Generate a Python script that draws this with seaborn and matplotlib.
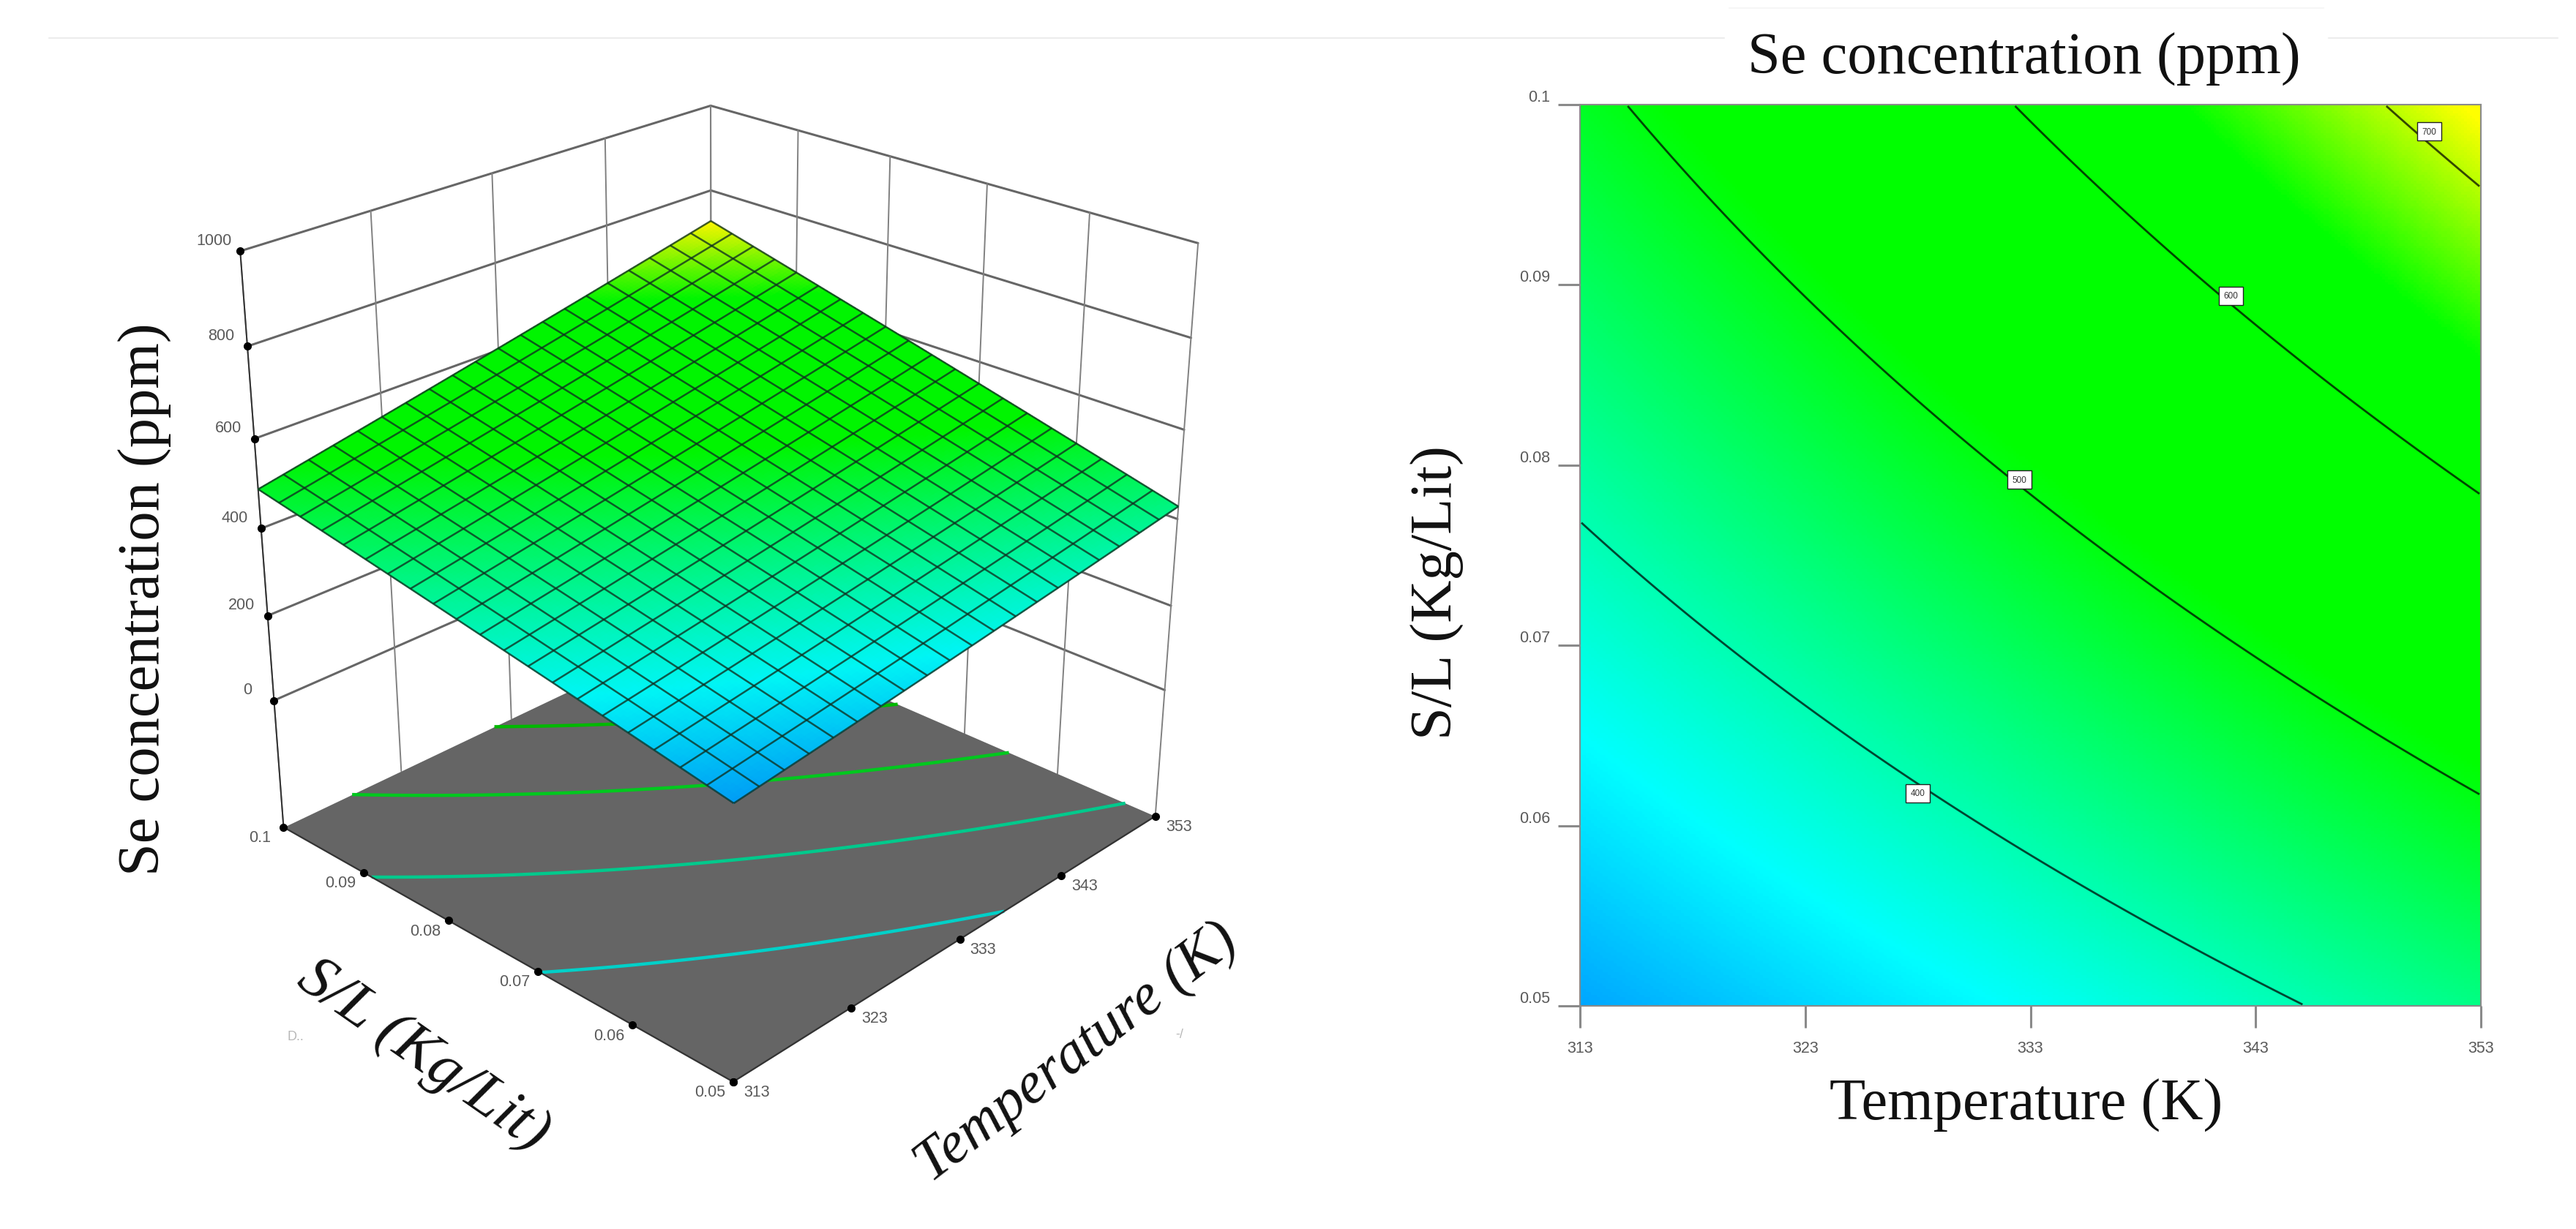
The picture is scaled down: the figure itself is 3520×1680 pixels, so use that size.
import numpy as np
import pandas as pd
import matplotlib
matplotlib.use("Agg")
import matplotlib.pyplot as plt
import seaborn as sns
from matplotlib.colors import LinearSegmentedColormap, Normalize
from matplotlib.lines import Line2D
from matplotlib.transforms import ScaledTranslation
from mpl_toolkits.mplot3d import proj3d

# Se concentration (ppm) read at each temperature / solid-to-liquid tick
temperature_ticks = [313, 323, 333, 343, 353]
sl_ticks = [0.05, 0.06, 0.07, 0.08, 0.09, 0.1]
sl_tick_labels = ["0.05", "0.06", "0.07", "0.08", "0.09", "0.1"]
z_ticks = [0, 200, 400, 600, 800, 1000]
se_313 = [291, 333, 374, 413, 451, 488]
se_323 = [324, 369, 414, 458, 502, 546]
se_333 = [358, 409, 459, 508, 557, 605]
se_343 = [393, 449, 503, 558, 611, 664]
se_353 = [427, 490, 550, 610, 669, 727]

contour_levels = [400, 500, 600, 700]
floor_levels = [372, 447, 521, 595]
floor_colors = ["#00d0c8", "#00c98c", "#00c81e", "#00b800"]
label_t = [328.0, 332.5, 341.9, 350.7]
label_sl = [0.0618, 0.0792, 0.0894, 0.0985]

color_stops_z = [288, 352, 510, 645, 722]
color_stops = ["#00a0ff", "#00ffff", "#00ff00", "#00ff00", "#ffff00"]

Z_FLOOR = -310
Z_TOP = 1000
W, H = 3520, 1681
SERIF = "Liberation Serif"
SANS = "Liberation Sans"
TICK_GRAY = "#5a5a5a"

sns.set_theme(style="white")
plt.rcParams["font.family"] = [SANS, "DejaVu Sans"]

readings = np.array([se_313, se_323, se_333, se_343, se_353], dtype=float)
t_grid, s_grid = np.meshgrid(temperature_ticks, sl_ticks, indexing="ij")


def design(t, s):
    u = (np.asarray(t) - 313.0) / 40.0
    v = (np.asarray(s) - 0.05) / 0.05
    return np.stack([np.ones_like(u), u, v, u * v, u * u, v * v], axis=-1)


# Quadratic response surface through the tabulated readings
coef, *_ = np.linalg.lstsq(design(t_grid.ravel(), s_grid.ravel()), readings.ravel(), rcond=None)


def response(t, s):
    return design(t, s) @ coef


span = color_stops_z[-1] - color_stops_z[0]
cmap = LinearSegmentedColormap.from_list(
    "response",
    [((z - color_stops_z[0]) / span, c) for z, c in zip(color_stops_z, color_stops)],
)
norm = Normalize(color_stops_z[0], color_stops_z[-1])

fig = plt.figure(figsize=(W / 100, H / 100), dpi=100, facecolor="white")


def fig_xy(px, py):
    return px / W, 1 - py / H


# ---- 3D response surface ----
box_w = 1476
origin_x, origin_y = 985, 750
ax3 = fig.add_axes([(origin_x - 0.5135 * box_w) / W, 1 - (origin_y + 0.5135 * box_w) / H,
                    box_w / W, box_w / H], projection="3d", computed_zorder=False)
ax3.set_proj_type("persp", focal_length=0.5)
ax3.view_init(elev=25.6, azim=-136.4)
ax3.set_box_aspect((1, 1, 0.985), zoom=1.0)
ax3.set_axis_off()
ax3.patch.set_alpha(0)

t_fine = np.linspace(313, 353, 140)
s_fine = np.linspace(0.05, 0.1, 140)
T_f, S_f = np.meshgrid(t_fine, s_fine)
Z_f = response(T_f, S_f)

t_mesh = np.linspace(313, 353, 21)
s_mesh = np.linspace(0.05, 0.1, 21)
T_m, S_m = np.meshgrid(t_mesh, s_mesh)
Z_m = response(T_m, S_m)

wall_gray = "#666666"
# Back walls: horizontal rules at each z tick and verticals at each axis tick
for z in z_ticks:
    ax3.plot([313, 353], [0.1, 0.1], [z, z], color=wall_gray, lw=2.2, zorder=1)
    ax3.plot([353, 353], [0.1, 0.05], [z, z], color=wall_gray, lw=2.2, zorder=1)
for t in temperature_ticks:
    ax3.plot([t, t], [0.1, 0.1], [Z_FLOOR, Z_TOP], color="#808080", lw=1.4, zorder=1)
for s in sl_ticks:
    ax3.plot([353, 353], [s, s], [Z_FLOOR, Z_TOP], color="#808080", lw=1.4, zorder=1)

# Floor with projected contour lines
floor_t, floor_s = np.meshgrid([313, 353], [0.05, 0.1])
ax3.plot_surface(floor_t, floor_s, np.full_like(floor_t, Z_FLOOR, dtype=float),
                 color="#656565", shade=False, linewidth=0, zorder=2)
ax3.contour(T_f, S_f, Z_f, levels=floor_levels, zdir="z", offset=Z_FLOOR,
            colors=floor_colors, linewidths=3.2, zorder=3)
ax3.plot([313, 313, 353], [0.1, 0.05, 0.05], [Z_FLOOR] * 3, color="#333333", lw=1.6, zorder=4)

# Left vertical axis, lifted over the wall lines
ax3.plot([313, 313], [0.1, 0.1], [Z_FLOOR, Z_TOP], color="#333333", lw=1.4, zorder=4)

# Surface: smooth colour, then the coarse wire mesh on top
face = cmap(norm(Z_f))
face[..., :3] *= 0.96
ax3.plot_surface(T_f, S_f, Z_f, facecolors=face, rstride=1, cstride=1, shade=False,
                 linewidth=0, antialiased=False, zorder=5)
ax3.plot_wireframe(T_m, S_m, Z_m, rstride=1, cstride=1, color="#0f3020", linewidth=1.8,
                   alpha=0.78, zorder=6)

ax3.set_xlim(313, 353, view_margin=0)
ax3.set_ylim(0.05, 0.1, view_margin=0)
ax3.set_zlim(Z_FLOOR, Z_TOP, view_margin=0)
ax3.set_autoscale_on(False)

# Tick dots
ax3.plot([313] * len(z_ticks), [0.1] * len(z_ticks), z_ticks, "o", color="black", ms=7, zorder=7)
ax3.plot([313] * len(sl_ticks), sl_ticks, [Z_FLOOR] * len(sl_ticks), "o", color="black", ms=7, zorder=7)
ax3.plot(temperature_ticks, [0.05] * len(temperature_ticks), [Z_FLOOR] * len(temperature_ticks),
         "o", color="black", ms=7, zorder=7)

proj = ax3.get_proj()


def tick_text(x, y, z, label, dx, dy):
    px, py, _ = proj3d.proj_transform(x, y, z, proj)
    ax3.annotate(label, xy=(px, py), xytext=(dx * 0.72, dy * 0.72), textcoords="offset points",
                 ha="center", va="center", fontsize=15.5, color=TICK_GRAY, annotation_clip=False)


for z in z_ticks:
    tick_text(313, 0.1, z, str(z), -36, 15)
for s, lab in zip(sl_ticks, sl_tick_labels):
    tick_text(313, s, Z_FLOOR, lab, -32, -14)
for t in temperature_ticks:
    tick_text(t, 0.05, Z_FLOOR, str(t), 32, -14)

fig.text(*fig_xy(198, 819), "Se concentration (ppm)", family=SERIF, fontsize=58,
         rotation=90, ha="center", va="center", color="#111111")
fig.text(*fig_xy(578, 1444), "S/L (Kg/Lit)", family=SERIF, style="italic", fontsize=60,
         rotation=-35, ha="center", va="center", rotation_mode="anchor", color="#111111")
fig.text(*fig_xy(1472, 1441), "Temperature (K)", family=SERIF, style="italic", fontsize=58,
         rotation=37.5, ha="center", va="center", rotation_mode="anchor", color="#111111")
# Clipped remains of the original axis captions
fig.text(*fig_xy(404, 1418), "D..", fontsize=13, color="#b8b8b8", ha="center", va="center")
fig.text(*fig_xy(1612, 1415), "-/", fontsize=13, color="#b8b8b8", ha="center", va="center")

# ---- Contour panel ----
n = 320
t_cells = 313 + (np.arange(n) + 0.5) * 40 / n
s_cells = 0.05 + (np.arange(n) + 0.5) * 0.05 / n
T_c, S_c = np.meshgrid(t_cells, s_cells)
field = pd.DataFrame(response(T_c, S_c), index=s_cells, columns=t_cells)

ax2 = fig.add_axes([2159 / W, 1 - 1376 / H, (3390 - 2159) / W, (1376 - 144) / H])
sns.heatmap(field, ax=ax2, cmap=cmap, vmin=color_stops_z[0], vmax=color_stops_z[-1], cbar=False,
            xticklabels=False, yticklabels=False, square=False)
ax2.set_ylim(0, n)
ax2.set_xlim(0, n)


def col(t):
    return (np.asarray(t, dtype=float) - 313) / 40 * n


def row(s):
    return (np.asarray(s, dtype=float) - 0.05) / 0.05 * n


ax2.contour(np.arange(n) + 0.5, np.arange(n) + 0.5, field.values, levels=contour_levels,
            colors="black", linewidths=2.0, alpha=0.72)
for t, s, level in zip(label_t, label_sl, contour_levels):
    ax2.text(col(t), row(s), str(level), fontsize=8.5, ha="center", va="center", color="#333333",
             bbox=dict(boxstyle="square,pad=0.55", fc="white", ec="#222222", lw=1.0))

ax2.set_xticks(col(temperature_ticks))
ax2.set_xticklabels([str(t) for t in temperature_ticks])
ax2.set_yticks(row(sl_ticks))
ax2.set_yticklabels(sl_tick_labels, rotation=0)
ax2.tick_params(axis="both", bottom=True, left=True, length=21.6, width=2.2, color="#8a8a8a",
                labelsize=15.5, labelcolor=TICK_GRAY)
ax2.tick_params(axis="x", pad=12)
ax2.tick_params(axis="y", pad=8)
shift_up = ScaledTranslation(0, 0.13, fig.dpi_scale_trans)
for tick_label in ax2.get_yticklabels():
    tick_label.set_transform(tick_label.get_transform() + shift_up)
for spine in ax2.spines.values():
    spine.set_visible(True)
    spine.set_color("#8a8a8a")
    spine.set_linewidth(1.5)

fig.text(*fig_xy(2766, 81), "Se concentration (ppm)", family=SERIF, fontsize=58,
         ha="center", va="center", color="#111111")
fig.text(*fig_xy(2769, 1511), "Temperature (K)", family=SERIF, fontsize=58,
         ha="center", va="center", color="#111111")
fig.text(*fig_xy(1964, 810), "S/L (Kg/Lit)", family=SERIF, fontsize=58, rotation=90,
         ha="center", va="center", color="#111111")

# Faint rules along the top of the sheet
for x0, x1, y, c in [(67, 2356, 53, "#ececec"), (3182, 3495, 53, "#ececec"), (2363, 3175, 12, "#f6f6f6")]:
    fig.add_artist(Line2D([x0 / W, x1 / W], [1 - y / H] * 2, color=c, lw=1.5))

fig.savefig("out.png", dpi=100)
